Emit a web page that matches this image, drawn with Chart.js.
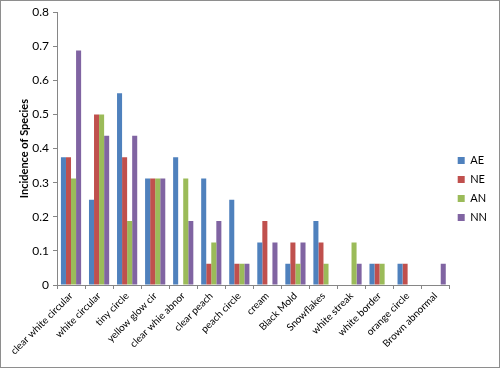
<!DOCTYPE html>
<html lang="en">
<head>
    <meta charset="UTF-8">
    <title>Incidence of Species</title>
    <script src="https://cdn.jsdelivr.net/npm/chart.js"></script>
    <style>
        html, body { margin: 0; padding: 0; background: #fff; }
        #wrap {
            width: 500px;
            height: 368px;
            box-sizing: border-box;
            border: 1px solid #8e8e8e;
        }
        #chart { display: block; }
    </style>
</head>
<body>
    <div id="wrap"><canvas id="chart" width="498" height="366"></canvas></div>

    <script>
        const categories = ['clear white circular', 'white circular', 'tiny circle', 'yellow glow cir',
            'clear whie abnor', 'clear peach', 'peach circle', 'cream', 'Black Mold', 'Snowflakes',
            'white streak', 'white border', 'orange circle', 'Brown abnormal'];
        const AE = [0.375, 0.25, 0.5625, 0.3125, 0.375, 0.3125, 0.25, 0.125, 0.0625, 0.1875, 0, 0.0625, 0.0625, 0];
        const NE = [0.375, 0.5, 0.375, 0.3125, 0, 0.0625, 0.0625, 0.1875, 0.125, 0.125, 0, 0.0625, 0.0625, 0];
        const AN = [0.3125, 0.5, 0.1875, 0.3125, 0.3125, 0.125, 0.0625, 0, 0.0625, 0.0625, 0.125, 0.0625, 0, 0];
        const NN = [0.6875, 0.4375, 0.4375, 0.3125, 0.1875, 0.1875, 0.0625, 0.125, 0.125, 0, 0.0625, 0, 0, 0.0625];

        const font = 'Lato, "Open Sans", sans-serif';

        function series(label, data, color) {
            return {
                label: label,
                data: data,
                backgroundColor: color,
                borderColor: color,
                borderWidth: 0,
                categoryPercentage: 0.72,
                barPercentage: 1.0
            };
        }

        new Chart(document.getElementById('chart'), {
            type: 'bar',
            data: {
                labels: categories,
                datasets: [
                    series('AE', AE, '#4f81bd'),
                    series('NE', NE, '#c0504d'),
                    series('AN', AN, '#9bbb59'),
                    series('NN', NN, '#8064a2')
                ]
            },
            options: {
                responsive: false,
                animation: false,
                layout: { padding: { top: 10, left: 14, right: 2, bottom: 0 } },
                plugins: {
                    legend: {
                        position: 'right',
                        labels: {
                            boxWidth: 7,
                            boxHeight: 7,
                            padding: 8,
                            color: '#000',
                            font: { family: font, size: 11, lineHeight: 1 }
                        }
                    },
                    tooltip: { enabled: false }
                },
                scales: {
                    x: {
                        afterFit: s => { s.height = 82; },
                        grid: {
                            offset: true,
                            drawOnChartArea: false,
                            drawTicks: true,
                            tickLength: 4,
                            color: '#868686'
                        },
                        border: { color: '#868686' },
                        ticks: {
                            minRotation: 45,
                            maxRotation: 45,
                            autoSkip: false,
                            color: '#000',
                            padding: 1,
                            font: { family: font, size: 10 }
                        }
                    },
                    y: {
                        min: 0,
                        max: 0.8,
                        afterFit: s => { s.width = 42; },
                        grid: {
                            drawOnChartArea: false,
                            drawTicks: true,
                            tickLength: 4,
                            color: '#868686'
                        },
                        border: { color: '#868686' },
                        ticks: {
                            stepSize: 0.1,
                            color: '#000',
                            padding: 4,
                            font: { family: font, size: 12 },
                            callback: v => Math.round(v * 10) / 10
                        },
                        title: {
                            display: true,
                            text: 'Incidence of Species',
                            color: '#000',
                            padding: { top: 3, bottom: 0 },
                            font: { family: font, size: 11, weight: 'bold' }
                        }
                    }
                }
            }
        });
    </script>
</body>
</html>
